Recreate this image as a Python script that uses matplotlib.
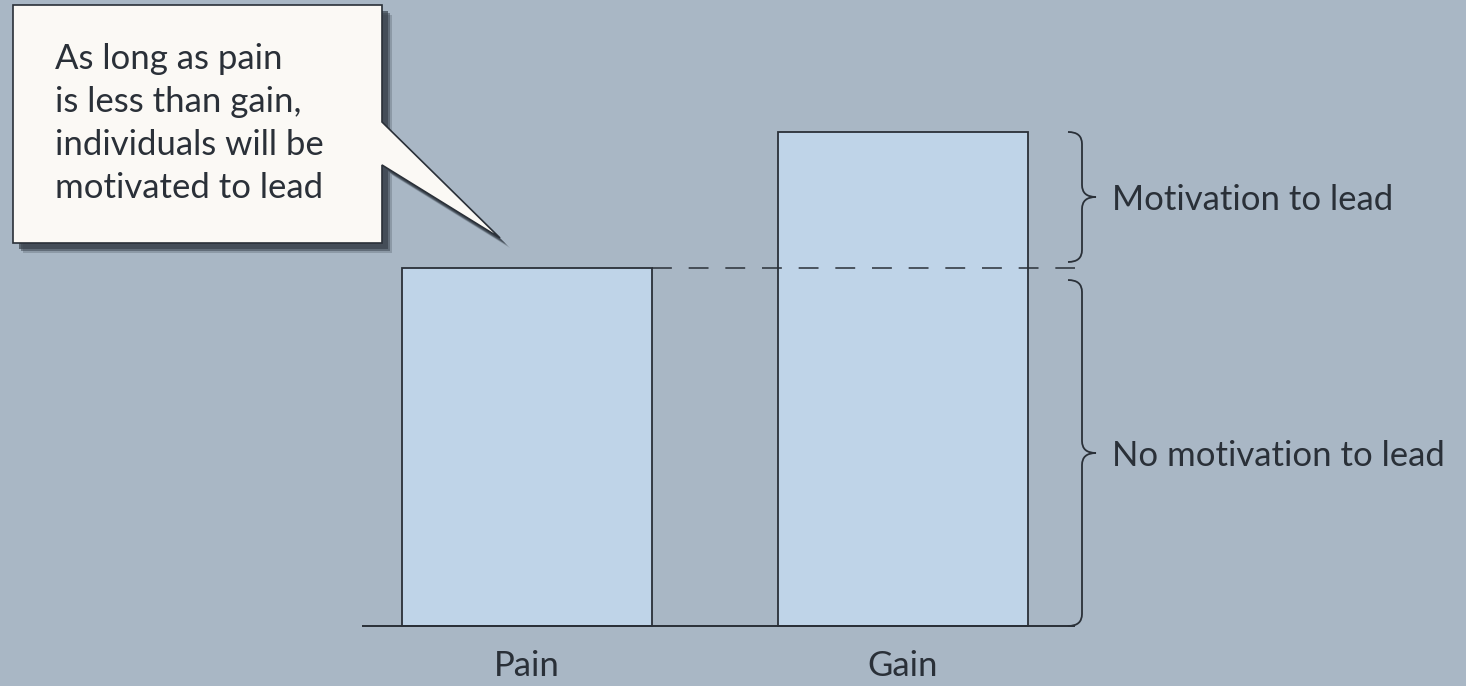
import numpy as np
import matplotlib.pyplot as plt
from matplotlib.path import Path
from matplotlib.patches import PathPatch, Polygon

plt.rcParams["font.family"] = ["Lato", "DejaVu Sans"]

# data
categories = ["Pain", "Gain"]
values = [10.0, 13.8]
brace_labels = ["Motivation to lead", "No motivation to lead"]
callout_text = "As long as pain\nis less than gain,\nindividuals will be\nmotivated to lead"

W, H = 1466, 686
bg = "#a9b7c5"
bar_fill = "#bfd4e8"
ink = "#2a3038"

fig = plt.figure(figsize=(W / 100, H / 100), dpi=100, facecolor=bg)
ax = fig.add_axes([0, 0, 1, 1])
ax.set_facecolor(bg)
ax.axis("off")

# 1 x unit = 375.5 px, 1 y unit = 35.8 px
sx, sy = 375.5, 35.8
ax.set_xlim(-527 / sx, (W - 527) / sx)
ax.set_ylim(-(H - 626) / sy, 626 / sy)

x = np.arange(len(categories))
ax.bar(x, values, width=250 / sx, color=bar_fill, edgecolor=ink, linewidth=1.3, zorder=2)

x_end = 1075 / sx - 527 / sx
ax.plot([-165 / sx, x_end], [0, 0], color=ink, lw=1.4, zorder=3, solid_capstyle="butt")
ax.plot([x[0] + 125 / sx, x_end], [values[0], values[0]], color=ink, lw=1.1,
        dashes=(13, 11), zorder=3)

for xi, lab in zip(x, categories):
    ax.text(xi, -40 / sy, lab, ha="center", va="center", fontsize=25, color=ink)


def brace(y_top, y_bot, x0, a, r):
    ym = (y_top + y_bot) / 2
    verts = [(x0, y_top), (x0 + a, y_top), (x0 + a, y_top - r),
             (x0 + a, ym + r), (x0 + a, ym), (x0 + 2 * a, ym),
             (x0 + a, ym), (x0 + a, ym - r),
             (x0 + a, y_bot + r), (x0 + a, y_bot), (x0, y_bot)]
    codes = [Path.MOVETO, Path.CURVE3, Path.CURVE3,
             Path.LINETO, Path.CURVE3, Path.CURVE3,
             Path.CURVE3, Path.CURVE3,
             Path.LINETO, Path.CURVE3, Path.CURVE3]
    ax.add_patch(PathPatch(Path(verts, codes), fill=False, edgecolor=ink, lw=1.3, zorder=3))
    return ym


bx = 1068 / sx - 527 / sx
gap = 6 / sy
spans = [(values[1], values[0] + gap), (values[0] - 12 / sy, 0.0)]
for (yt, yb), lab in zip(spans, brace_labels):
    ym = brace(yt, yb, bx, 14 / sx, 12 / sy)
    ax.text(bx + 44 / sx, ym - 3 / sy, lab, ha="left", va="center", fontsize=25, color=ink)

# callout box (figure pixels, y down)
def fp(pts):
    return [(px / W, 1 - py / H) for px, py in pts]

box = [(13, 5), (382, 5), (382, 122), (500, 238), (382, 165), (382, 243), (13, 243)]
for off, al in [(10, 0.25), (8, 0.5), (6, 0.7)]:
    sh = [(px + off, py + off) for px, py in box]
    fig.patches.append(Polygon(fp(sh), closed=True, transform=fig.transFigure,
                               facecolor="#38414b", edgecolor="none", alpha=al, zorder=5))
fig.patches.append(Polygon(fp(box), closed=True, transform=fig.transFigure,
                           facecolor="#fbf9f5", edgecolor=ink, lw=1.2, zorder=6))
fig.text(55 / W, 1 - 43 / H, callout_text, ha="left", va="top", fontsize=25,
         color=ink, linespacing=1.42, zorder=7)

fig.savefig("out.png", dpi=100, facecolor=bg)
